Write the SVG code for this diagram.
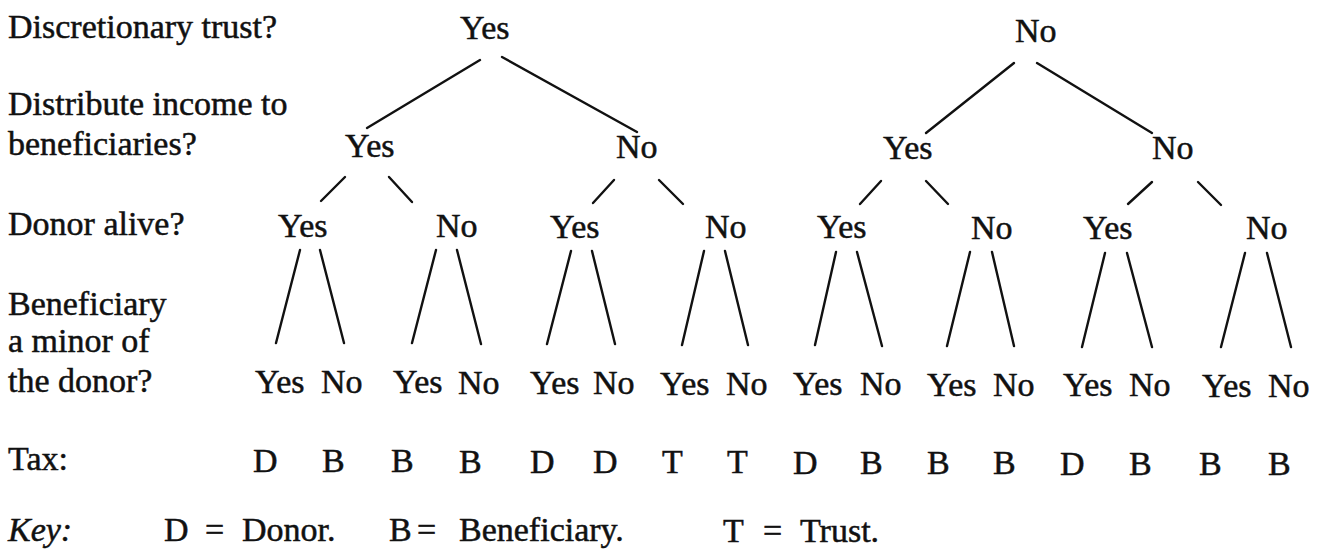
<svg xmlns="http://www.w3.org/2000/svg" width="1319" height="558" viewBox="0 0 1319 558">
<style>
  text { font-family: "Liberation Serif", "Times New Roman", serif; font-size: 34px; fill: #111; stroke: #111; stroke-width: 0.5; }
  .it { font-style: italic; }
  .c line { stroke: #111; stroke-width: 2.4; stroke-linecap: round; }
</style>
<rect width="1319" height="558" fill="#fff"/>
<g id="row-labels">
  <text x="8" y="38">Discretionary trust?</text>
  <text x="8" y="115">Distribute income to</text>
  <text x="8" y="155">beneficiaries?</text>
  <text x="8" y="235">Donor alive?</text>
  <text x="8" y="315">Beneficiary</text>
  <text x="8" y="352">a minor of</text>
  <text x="8" y="392">the donor?</text>
  <text x="8" y="470">Tax:</text>
</g>
<g id="key">
  <text class="it" x="8" y="541">Key:</text>
  <text x="164" y="541">D</text><text x="205" y="541">=</text><text x="242" y="541">Donor.</text>
  <text x="389" y="541">B</text><text x="417" y="541">=</text><text x="459" y="541">Beneficiary.</text>
  <text x="723" y="542">T</text><text x="763" y="542">=</text><text x="800" y="542">Trust.</text>
</g>
<g class="c" id="connectors">
  <line x1="480" y1="60" x2="367" y2="128"/>
  <line x1="502" y1="57" x2="637" y2="132"/>
  <line x1="1014" y1="63" x2="926" y2="133"/>
  <line x1="1037" y1="63" x2="1152" y2="133"/>
  <line x1="345" y1="177" x2="321" y2="201"/>
  <line x1="389" y1="177" x2="412" y2="202"/>
  <line x1="614" y1="180" x2="593" y2="203"/>
  <line x1="659" y1="180" x2="683" y2="204"/>
  <line x1="881" y1="181" x2="860" y2="204"/>
  <line x1="926" y1="181" x2="948" y2="204"/>
  <line x1="1152" y1="182" x2="1128" y2="204"/>
  <line x1="1198" y1="182" x2="1221" y2="205"/>
  <line x1="300" y1="250" x2="276" y2="343"/>
  <line x1="320" y1="250" x2="344" y2="343"/>
  <line x1="436" y1="250" x2="412" y2="343"/>
  <line x1="457" y1="250" x2="481" y2="344"/>
  <line x1="571" y1="251" x2="547" y2="344"/>
  <line x1="592" y1="251" x2="615" y2="344"/>
  <line x1="704" y1="251" x2="682" y2="345"/>
  <line x1="725" y1="251" x2="748" y2="345"/>
  <line x1="836" y1="252" x2="815" y2="345"/>
  <line x1="857" y1="252" x2="882" y2="346"/>
  <line x1="970" y1="252" x2="947" y2="346"/>
  <line x1="992" y1="252" x2="1014" y2="346"/>
  <line x1="1105" y1="253" x2="1082" y2="347"/>
  <line x1="1127" y1="253" x2="1152" y2="347"/>
  <line x1="1245" y1="253" x2="1221" y2="347"/>
  <line x1="1267" y1="253" x2="1291" y2="347"/>
</g>
<g id="n-root-yes"><text x="460" y="39">Yes</text></g>
<g id="n-root-no"><text x="1015" y="42">No</text></g>
<g id="n-y-y"><text x="345" y="157">Yes</text></g>
<g id="n-y-n"><text x="616" y="158">No</text></g>
<g id="n-n-y"><text x="883" y="159">Yes</text></g>
<g id="n-n-n"><text x="1152" y="159">No</text></g>
<g id="n-yy-y"><text x="278" y="237">Yes</text></g>
<g id="n-yy-n"><text x="436" y="237">No</text></g>
<g id="n-yn-y"><text x="550" y="238">Yes</text></g>
<g id="n-yn-n"><text x="705" y="238">No</text></g>
<g id="n-ny-y"><text x="817" y="238">Yes</text></g>
<g id="n-ny-n"><text x="971" y="239">No</text></g>
<g id="n-nn-y"><text x="1083" y="239">Yes</text></g>
<g id="n-nn-n"><text x="1246" y="239">No</text></g>
<g id="leaf-1"><text x="255" y="393">Yes</text><text x="253" y="472">D</text></g>
<g id="leaf-2"><text x="321" y="393">No</text><text x="322" y="472">B</text></g>
<g id="leaf-3"><text x="393" y="393">Yes</text><text x="391" y="472">B</text></g>
<g id="leaf-4"><text x="458" y="394">No</text><text x="459" y="473">B</text></g>
<g id="leaf-5"><text x="530" y="394">Yes</text><text x="530" y="473">D</text></g>
<g id="leaf-6"><text x="593" y="394">No</text><text x="593" y="473">D</text></g>
<g id="leaf-7"><text x="660" y="395">Yes</text><text x="662" y="473">T</text></g>
<g id="leaf-8"><text x="726" y="395">No</text><text x="727" y="473">T</text></g>
<g id="leaf-9"><text x="793" y="395">Yes</text><text x="793" y="474">D</text></g>
<g id="leaf-10"><text x="860" y="395">No</text><text x="860" y="474">B</text></g>
<g id="leaf-11"><text x="927" y="396">Yes</text><text x="927" y="474">B</text></g>
<g id="leaf-12"><text x="993" y="396">No</text><text x="993" y="474">B</text></g>
<g id="leaf-13"><text x="1063" y="396">Yes</text><text x="1060" y="475">D</text></g>
<g id="leaf-14"><text x="1129" y="396">No</text><text x="1129" y="475">B</text></g>
<g id="leaf-15"><text x="1202" y="397">Yes</text><text x="1199" y="475">B</text></g>
<g id="leaf-16"><text x="1268" y="397">No</text><text x="1268" y="475">B</text></g>
</svg>
